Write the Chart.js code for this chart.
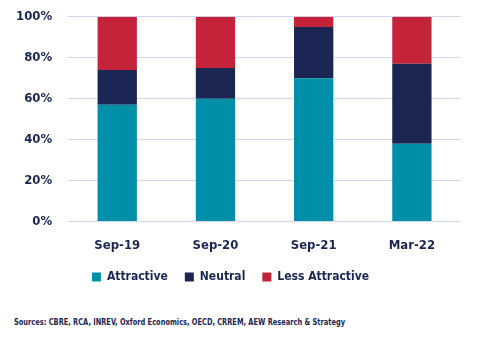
<!DOCTYPE html>
<html>
<head>
<meta charset="utf-8">
<script src="https://cdn.jsdelivr.net/npm/chart.js@4"></script>
<style>
  html, body { margin: 0; padding: 0; background: #fff; }
  #wrap { position: relative; width: 488px; height: 339px; overflow: hidden; }
  #myChart { position: absolute; left: 0; top: -7px; }
  #source {
    position: absolute; left: 14px; top: 317px; white-space: nowrap;
    font: bold 9px "DejaVu Sans Condensed", sans-serif; color: #1b2652;
    transform: scaleX(0.82); transform-origin: left center;
  }
</style>
</head>
<body>
<div id="wrap">
  <canvas id="myChart" width="488" height="300" style="width:488px;height:300px"></canvas>
  <div id="source">Sources: CBRE, RCA, INREV, Oxford Economics, OECD, CRREM, AEW Research &amp; Strategy</div>
</div>
<script>
'use strict';

// values, in percent
let periods = ['Sep-19', 'Sep-20', 'Sep-21', 'Mar-22'];
let attractive = [57, 60, 70, 38];
let neutral = [17, 15, 25, 39];
let lessAttractive = [26, 25, 5, 23];
let yTicks = [0, 20, 40, 60, 80, 100];

let navy = '#1b2652';
let font = { family: '"DejaVu Sans Condensed", sans-serif', weight: 'bold', size: 13 };
let legendFont = { family: '"DejaVu Sans Condensed", sans-serif', weight: 'bold', size: 12 };

let ctx = document.getElementById('myChart');
let myChart = new Chart(ctx, {
  type: 'bar',
  data: {
    labels: periods,
    datasets: [
      { label: 'Attractive', data: attractive, backgroundColor: '#008fa8' },
      { label: 'Neutral', data: neutral, backgroundColor: '#1b2652' },
      { label: 'Less Attractive', data: lessAttractive, backgroundColor: '#c3243a' }
    ]
  },
  options: {
    responsive: false,
    animation: false,
    barPercentage: 0.4,
    categoryPercentage: 1,
    layout: { padding: { top: 3, right: 27, left: 0, bottom: 0 } },
    plugins: {
      legend: {
        position: 'bottom',
        labels: { boxWidth: 9, boxHeight: 9, padding: 17, color: navy, font: legendFont }
      },
      tooltip: { enabled: false }
    },
    scales: {
      x: {
        stacked: true,
        grid: { display: false, drawTicks: false },
        border: { display: false },
        ticks: { color: navy, font: font, padding: 16 },
        // pull the legend closer to the tick labels
        afterFit: function(axis) { axis.height -= 15; }
      },
      y: {
        stacked: true,
        min: 0,
        max: 100,
        afterBuildTicks: function(axis) {
          axis.ticks = yTicks.map(v => ({ value: v }));
        },
        grid: { color: '#d3d6ec', drawTicks: false },
        border: { display: false },
        ticks: {
          color: navy, font: font, padding: 16,
          callback: v => v + '%'
        }
      }
    }
  }
});
</script>
</body>
</html>
